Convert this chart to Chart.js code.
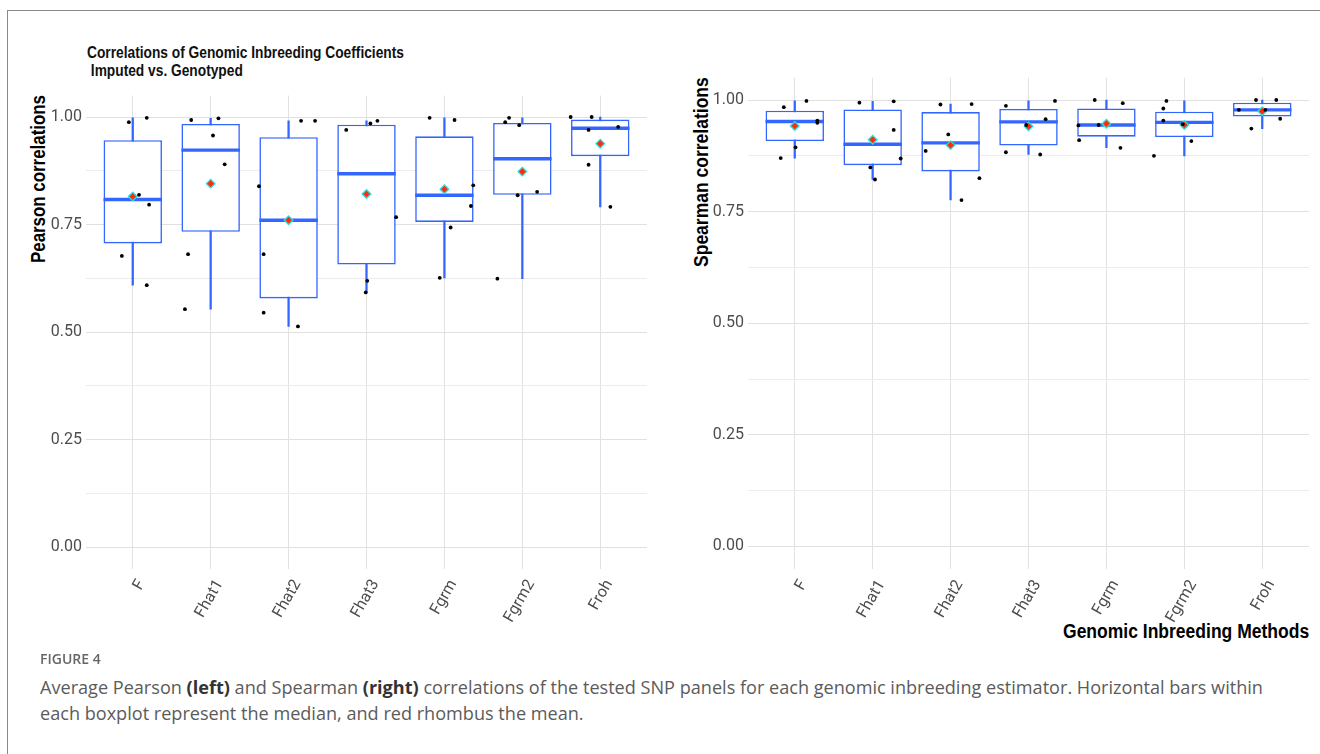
<!DOCTYPE html>
<html><head><meta charset="utf-8">
<script src="https://cdn.jsdelivr.net/npm/chart.js@4.4.1/dist/chart.umd.min.js"></script>
<style>
body{margin:0;background:#fff;}
#page{position:relative;width:1320px;height:754px;overflow:hidden;background:#fff;font-family:'Liberation Sans',Arial,sans-serif;}
.frame{position:absolute;left:7px;top:10px;width:1330px;height:760px;border-left:1.5px solid #8a8a8a;border-top:1.5px solid #8a8a8a;}
.ttl{position:absolute;left:87px;top:43.6px;font-weight:bold;font-size:16px;line-height:18.3px;color:#111;white-space:pre;display:inline-block;transform-origin:0 0;}
.vlab{position:absolute;width:22px;height:0;}
.vlab span{position:absolute;left:0;top:0;white-space:nowrap;font-weight:bold;font-size:20px;line-height:22px;color:#000;transform-origin:0 0;}
.xlab{position:absolute;right:11px;top:620px;font-weight:bold;font-size:20px;line-height:22px;color:#000;white-space:nowrap;display:inline-block;transform-origin:100% 0;}
.wrap{position:absolute;}
.figlab{position:absolute;left:40px;top:651px;font-family:'Open Sans',sans-serif;font-weight:600;font-size:14px;line-height:16px;color:#666;}
.cap{position:absolute;left:40px;top:674px;font-family:'Open Sans',sans-serif;font-size:18.1px;line-height:26px;color:#5b5b5b;white-space:nowrap;}
.cap b{color:#333;}
</style>
</head>
<body>
<div id="page">
  <div class="frame"></div>
  <div class="ttl" id="ttl">Correlations of Genomic Inbreeding Coefficients
 Imputed vs. Genotyped</div>
  <div class="vlab" style="left:27px;top:95px;"><span id="yl1">Pearson correlations</span></div>
  <div class="vlab" style="left:690px;top:77px;"><span id="yl2">Spearman correlations</span></div>
  <div class="xlab" id="xl">Genomic Inbreeding Methods</div>
  <div class="wrap" style="left:0;top:60px;width:660px;height:590px;"><canvas id="c1" width="660" height="590"></canvas></div>
  <div class="wrap" style="left:660px;top:40px;width:660px;height:620px;"><canvas id="c2" width="660" height="620"></canvas></div>
  <div class="figlab">FIGURE 4</div>
  <div class="cap">Average Pearson <b>(left)</b> and Spearman <b>(right)</b> correlations of the tested SNP panels for each genomic inbreeding estimator. Horizontal bars within<br>each boxplot represent the median, and red rhombus the mean.</div>
</div>
<script>
const categories = ['F','Fhat1','Fhat2','Fhat3','Fgrm','Fgrm2','Froh'];
const yTickValues = [0, 0.125, 0.25, 0.375, 0.5, 0.625, 0.75, 0.875, 1];

// Pearson (left panel)
const pearsonLow    = [0.609, 0.553, 0.513, 0.592, 0.626, 0.624, 0.791];
const pearsonQ1     = [0.706, 0.733, 0.578, 0.657, 0.756, 0.819, 0.909];
const pearsonMedian = [0.808, 0.923, 0.760, 0.868, 0.818, 0.903, 0.974];
const pearsonQ3     = [0.946, 0.984, 0.953, 0.982, 0.955, 0.986, 0.994];
const pearsonHigh   = [0.998, 0.997, 0.991, 0.991, 0.998, 0.998, 1.000];
const pearsonMean   = [0.815, 0.845, 0.760, 0.821, 0.832, 0.873, 0.938];
const pearsonPoints = [
  [0.988, 0.998, 0.819, 0.796, 0.677, 0.609],
  [0.993, 0.997, 0.957, 0.890, 0.681, 0.553],
  [0.991, 0.991, 0.839, 0.681, 0.545, 0.513],
  [0.970, 0.985, 0.991, 0.767, 0.619, 0.592],
  [0.998, 0.993, 0.841, 0.793, 0.743, 0.626],
  [0.988, 0.998, 0.981, 0.826, 0.818, 0.624],
  [1.000, 1.000, 0.970, 0.977, 0.889, 0.791]
];
const pearsonJitter = [
  [-0.05, 0.18, 0.08, 0.21, -0.14, 0.18],
  [-0.25, 0.10, 0.03, 0.18, -0.29, -0.33],
  [0.16, 0.34, -0.38, -0.32, -0.32, 0.12],
  [-0.26, 0.05, 0.14, 0.38, 0.01, -0.01],
  [-0.19, 0.13, 0.37, 0.34, 0.08, -0.06],
  [-0.22, -0.17, -0.04, 0.19, -0.06, -0.32],
  [-0.38, -0.11, -0.15, 0.23, -0.15, 0.13]
];

// Spearman (right panel)
const spearmanLow    = [0.870, 0.822, 0.776, 0.878, 0.893, 0.875, 0.936];
const spearmanQ1     = [0.908, 0.854, 0.840, 0.898, 0.918, 0.917, 0.963];
const spearmanMedian = [0.952, 0.901, 0.904, 0.951, 0.944, 0.950, 0.978];
const spearmanQ3     = [0.976, 0.979, 0.973, 0.980, 0.981, 0.974, 0.994];
const spearmanHigh   = [0.998, 0.997, 0.991, 0.998, 1.000, 0.998, 1.000];
const spearmanMean   = [0.942, 0.911, 0.899, 0.941, 0.947, 0.944, 0.975];
const spearmanPoints = [
  [0.984, 0.998, 0.954, 0.949, 0.894, 0.870],
  [0.994, 0.997, 0.933, 0.869, 0.849, 0.822],
  [0.990, 0.991, 0.923, 0.886, 0.825, 0.776],
  [0.987, 0.883, 0.998, 0.957, 0.944, 0.878],
  [1.000, 0.993, 0.943, 0.944, 0.910, 0.893],
  [0.998, 0.981, 0.954, 0.946, 0.908, 0.875],
  [1.000, 1.000, 0.978, 0.978, 0.958, 0.936]
];
const spearmanJitter = [
  [-0.14, 0.15, 0.29, 0.29, 0.01, -0.18],
  [-0.17, 0.27, 0.27, 0.36, -0.03, 0.03],
  [-0.13, 0.27, -0.03, -0.32, 0.37, 0.14],
  [-0.29, -0.29, 0.34, 0.22, -0.03, 0.15],
  [-0.15, 0.21, -0.36, -0.10, -0.35, 0.18],
  [-0.23, -0.27, -0.27, -0.02, 0.09, -0.39],
  [-0.08, 0.18, -0.30, 0.04, 0.23, -0.14]
];

// narrow-look text fitting for HTML titles
(function fitText() {
  const t = document.getElementById('ttl');
  t.style.transform = 'scaleX(' + (317 / t.offsetWidth) + ')';
  [['yl1', 168], ['yl2', 190]].forEach(([id, L]) => {
    const s = document.getElementById(id);
    const k = L / s.offsetWidth;
    s.style.transform = 'translate(0px,' + L + 'px) rotate(-90deg) scaleX(' + k + ')';
  });
  const xl = document.getElementById('xl');
  xl.style.transform = 'scaleX(' + (246 / xl.offsetWidth) + ')';
})();

const BLUE = '#3366ff';
const TICKFONT = {family: "Roboto, 'Liberation Sans', sans-serif", size: 16};

function makeChart(id, s, geo) {
  const halfBox = ctx => {
    const xs = ctx.chart.scales.x;
    return Math.abs(xs.getPixelForValue(0.375) - xs.getPixelForValue(0));
  };
  const pts = [];
  s.points.forEach((arr, i) => arr.forEach((v, j) => pts.push({x: i + s.jitter[i][j], y: v})));
  return new Chart(document.getElementById(id), {
    type: 'bar',
    data: {
      datasets: [
        {type: 'bar', order: 5, grouped: false, data: categories.map((c, i) => ({x: i, y: [s.low[i], s.high[i]]})),
         backgroundColor: BLUE, borderWidth: 0, barThickness: 1.6},
        {type: 'bar', order: 4, grouped: false, data: categories.map((c, i) => ({x: i, y: [s.q1[i], s.q3[i]]})),
         backgroundColor: '#ffffff', borderColor: BLUE, borderWidth: 1.6, borderSkipped: false,
         categoryPercentage: 1, barPercentage: 0.75},
        {type: 'line', order: 3, showLine: false, data: categories.map((c, i) => ({x: i, y: s.median[i]})),
         pointStyle: 'line', pointRadius: halfBox, pointBorderColor: BLUE, pointBorderWidth: 3.4},
        {type: 'line', order: 2, showLine: false, data: categories.map((c, i) => ({x: i, y: s.mean[i]})),
         pointStyle: 'rectRot', pointRadius: 4.3, pointBackgroundColor: '#ff2b0a', pointBorderColor: '#1fe3e3', pointBorderWidth: 1.3},
        {type: 'line', order: 1, showLine: false, data: pts,
         pointStyle: 'circle', pointRadius: 1.9, pointBackgroundColor: '#000', pointBorderWidth: 0}
      ]
    },
    options: {
      responsive: false, animation: false, events: [],
      layout: {padding: {top: geo.top, right: geo.right, left: 0, bottom: 0}},
      plugins: {legend: {display: false}, tooltip: {enabled: false}, title: {display: false}},
      scales: {
        x: {
          type: 'linear', min: -0.6, max: 6.6, offset: false,
          afterBuildTicks: sc => { sc.ticks = categories.map((c, i) => ({value: i})); },
          afterFit: sc => { sc.height = geo.xh; sc.paddingLeft = 0; sc.paddingRight = 0; },
          grid: {color: '#e2e2e2', lineWidth: 1, drawTicks: false, offset: false},
          border: {display: false},
          ticks: {autoSkip: false, minRotation: 60, maxRotation: 60, padding: 8, labelOffset: 9,
                  color: '#4d4d4d', font: TICKFONT, callback: v => categories[Math.round(v)]}
        },
        y: {
          type: 'linear', min: -0.05, max: 1.05,
          afterBuildTicks: sc => { sc.ticks = yTickValues.map(v => ({value: v})); },
          afterFit: sc => { sc.width = geo.yw; },
          grid: {color: ctx => (Math.round(ctx.tick.value * 1000) % 250 === 0 ? '#e0e0e0' : '#ececec'),
                 lineWidth: 1, drawTicks: false},
          border: {display: false},
          ticks: {padding: 4, color: '#4d4d4d', font: TICKFONT,
                  callback: v => (Math.round(v * 1000) % 250 === 0 ? v.toFixed(2) : '')}
        }
      }
    }
  });
}

makeChart('c1', {low: pearsonLow, q1: pearsonQ1, median: pearsonMedian, q3: pearsonQ3, high: pearsonHigh,
                 mean: pearsonMean, points: pearsonPoints, jitter: pearsonJitter},
          {top: 35.5, right: 13, yw: 86, xh: 81.5});
makeChart('c2', {low: spearmanLow, q1: spearmanQ1, median: spearmanMedian, q3: spearmanQ3, high: spearmanHigh,
                 mean: spearmanMean, points: spearmanPoints, jitter: spearmanJitter},
          {top: 37.7, right: 11, yw: 88, xh: 91.2});
</script>
</body></html>
